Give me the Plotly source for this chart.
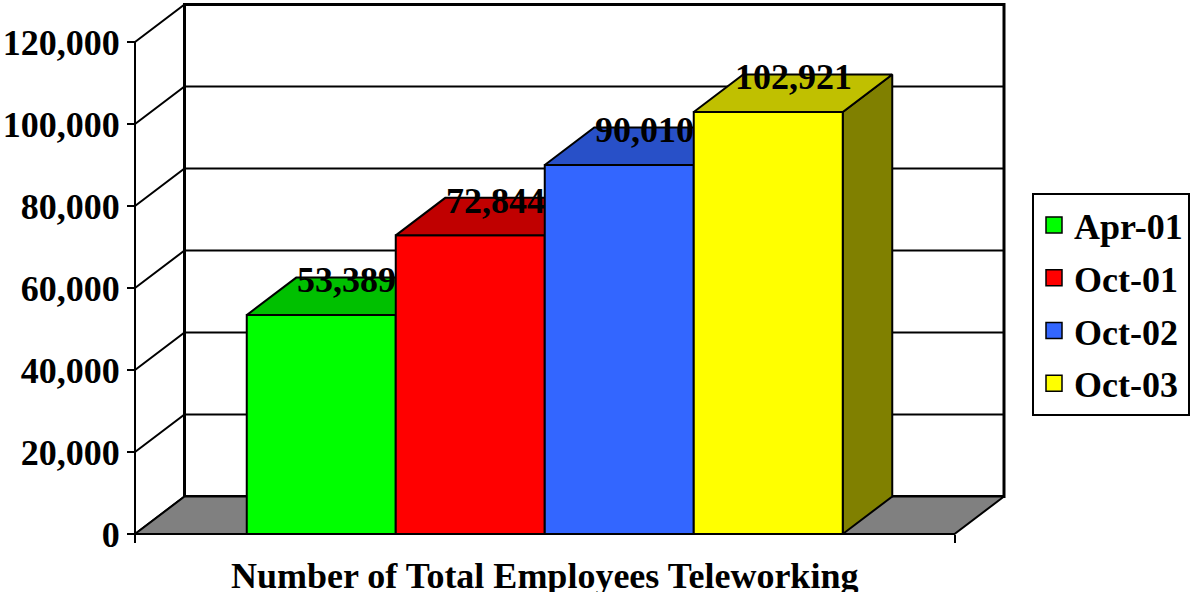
import plotly.graph_objects as go

# ---------------- data ----------------
categories = ["Apr-01", "Oct-01", "Oct-02", "Oct-03"]
values = [53389, 72844, 90010, 102921]
value_labels = ["53,389", "72,844", "90,010", "102,921"]
front_colors = ["#00FF00", "#FF0000", "#3366FF", "#FFFF00"]
top_colors = ["#00C000", "#C00000", "#2850C8", "#C0C000"]
side_colors = ["#008000", "#800000", "#1A3380", "#808000"]
y_ticks = [0, 20000, 40000, 60000, 80000, 100000, 120000]
y_tick_labels = ["0", "20,000", "40,000", "60,000", "80,000", "100,000", "120,000"]
x_title = "Number of Total Employees Teleworking"

# ---------------- geometry / style ----------------
W, H = 1194, 592
AXIS_X_PX = 135
BASE_Y_PX = 534
TOP_Y_PX = 42
TITLE_Y_PX = 576
LEG_X_PX = 1032
LEG_Y_PX = 193
YMAX = y_ticks[-1]
PX_PER_VAL = (BASE_Y_PX - TOP_Y_PX) / YMAX
PX_PER_UNIT = 149.0
GAP = 0.75
FLOOR_W = len(values) + 2 * GAP
DX = 49.5 / PX_PER_UNIT
DY = 37.5 / PX_PER_VAL

x_range = [-AXIS_X_PX / PX_PER_UNIT, (W - AXIS_X_PX) / PX_PER_UNIT]
y_range = [-(H - BASE_Y_PX) / PX_PER_VAL, YMAX + TOP_Y_PX / PX_PER_VAL]

FONT = dict(family="Liberation Serif, Times New Roman, serif", size=36, color="black")
LW = 2

fig = go.Figure()


def poly(xs, ys, fill, lw=LW):
    fig.add_trace(go.Scatter(
        x=list(xs) + [xs[0]], y=list(ys) + [ys[0]], mode="lines", fill="toself",
        fillcolor=fill, line=dict(color="black", width=lw), showlegend=False,
        hoverinfo="skip"))


# back wall
poly([DX, FLOOR_W + DX, FLOOR_W + DX, DX], [DY, DY, YMAX + DY, YMAX + DY], "white", 3)

# gridlines on back wall and left wall
gx, gy = [], []
for t in y_ticks:
    gx += [0, DX, FLOOR_W + DX, None]
    gy += [t, t + DY, t + DY, None]
fig.add_trace(go.Scatter(x=gx, y=gy, mode="lines", line=dict(color="black", width=LW),
                         showlegend=False, hoverinfo="skip"))

# front vertical axis line
fig.add_trace(go.Scatter(x=[0, 0], y=[0, YMAX], mode="lines", line=dict(color="black", width=LW),
                         showlegend=False, hoverinfo="skip"))

# floor
poly([0, FLOOR_W, FLOOR_W + DX, DX], [0, 0, DY, DY], "#808080")

# bars
for i, v in enumerate(values):
    xl = GAP + i
    xr = xl + 1
    poly([xr, xr + DX, xr + DX, xr], [0, DY, v + DY, v], side_colors[i])
    poly([xl, xr, xr, xl], [0, 0, v, v], front_colors[i])
    poly([xl, xr, xr + DX, xl + DX], [v, v, v + DY, v + DY], top_colors[i])

# value labels
for i, v in enumerate(values):
    fig.add_annotation(x=GAP + i + 0.5 + DX / 2, y=v + DY / 2, text="<b>%s</b>" % value_labels[i],
                       showarrow=False, xanchor="center", yanchor="bottom", yshift=-6, font=FONT)

# legend entries
for i, c in enumerate(categories):
    fig.add_trace(go.Scatter(x=[None], y=[None], mode="markers", name="<b>%s</b>" % c,
                             legendgroup="g%d" % i,
                             marker=dict(symbol="square", size=20, color=front_colors[i],
                                         line=dict(color="black", width=1.5))))

# x axis title
fig.add_annotation(x=FLOOR_W / 2, y=(H - TITLE_Y_PX) / H, xref="x", yref="paper",
                   text="<b>%s</b>" % x_title, showarrow=False, xanchor="center",
                   yanchor="middle", font=FONT)

fig.update_layout(
    template="none",
    width=W, height=H, autosize=False,
    margin=dict(l=0, r=0, t=0, b=0),
    paper_bgcolor="white", plot_bgcolor="white",
    xaxis=dict(range=x_range, showgrid=False, zeroline=False, showline=False,
               tickvals=[0, FLOOR_W], ticks="outside", ticklen=8, tickwidth=LW,
               tickcolor="black", showticklabels=False, anchor="free",
               position=(H - BASE_Y_PX) / H, automargin=False, fixedrange=True),
    yaxis=dict(range=y_range, showgrid=False, zeroline=False, showline=False,
               tickvals=y_ticks, ticktext=["<b>%s</b>" % s for s in y_tick_labels],
               ticks="outside", ticklen=8, tickwidth=LW, tickcolor="black",
               tickfont=FONT, anchor="free", position=AXIS_X_PX / W,
               automargin=False, fixedrange=True),
    legend=dict(x=LEG_X_PX / W, y=(H - LEG_Y_PX) / H, xanchor="left", yanchor="top",
                bordercolor="black", borderwidth=2, bgcolor="white", font=FONT,
                itemwidth=30, tracegroupgap=3),
    showlegend=True,
)

fig.write_html("out.html", config={"displayModeBar": False},
               post_script="document.body.style.margin='0px';document.body.style.overflow='hidden';")
